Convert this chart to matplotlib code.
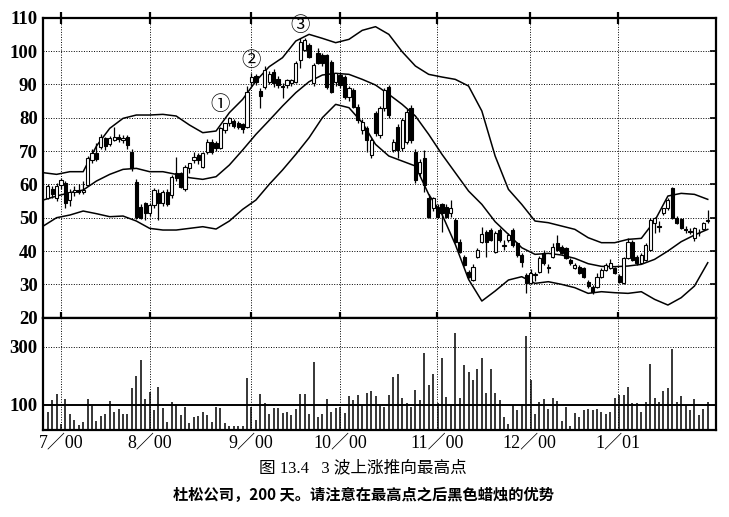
import numpy as np
import matplotlib
matplotlib.use("Agg")
import matplotlib.pyplot as plt

# 日线数据 (开, 高, 低, 收)，按交易日顺序
opens = [56.0, 58.5, 56.0, 59.8, 60.5, 55.3, 57.8, 58.3, 57.8, 59.8,
         67.3, 69.5, 71.3, 73.8, 72.0, 73.3, 74.3, 73.3, 74.3, 69.8,
         60.8, 53.3, 54.3, 51.3, 53.8, 57.3, 54.3, 57.8, 56.8, 63.5,
         63.3, 58.5, 64.8, 67.3, 68.8, 65.3, 69.8, 72.8, 72.3, 70.8,
         76.3, 78.3, 79.0, 78.5, 78.0, 77.3, 90.8, 92.5, 88.1, 89.3,
         90.8, 93.8, 91.5, 89.5, 89.8, 90.3, 90.8, 97.3, 100.3, 101.8,
         90.3, 99.3, 98.8, 98.8, 96.8, 90.8, 92.8, 92.3, 86.3, 88.3,
         83.3, 76.3, 76.8, 68.8, 81.3, 74.8, 82.8, 89.3, 70.3, 77.3,
         70.8, 72.8, 82.8, 69.8, 63.3, 67.8, 55.8, 52.8, 53.3, 54.0,
         53.3, 51.3, 49.3, 42.8, 38.3, 33.8, 31.3, 38.3, 42.8, 45.8,
         46.3, 39.8, 46.3, 41.5, 43.3, 46.3, 42.3, 38.8, 32.8, 30.3,
         32.8, 33.8, 39.3, 35.2, 38.3, 42.3, 41.3, 40.8, 37.3, 35.0,
         35.3, 34.8, 30.8, 29.3, 29.3, 32.3, 34.3, 34.8, 34.8, 32.5,
         30.3, 37.8, 42.8, 38.3, 36.3, 37.3, 40.3, 48.3, 47.5, 51.3,
         52.8, 58.8, 49.8, 49.5, 46.5, 46.0, 43.8, 45.5, 46.5, 49.0]
highs = [60.0, 59.5, 60.5, 62.0, 61.0, 58.5, 59.5, 60.0, 61.0, 68.5,
         70.5, 72.5, 75.0, 74.3, 74.5, 77.3, 75.0, 74.8, 74.8, 70.5,
         61.5, 54.0, 54.8, 54.5, 59.0, 58.5, 58.3, 58.5, 62.8, 68.3,
         63.8, 65.8, 66.5, 69.8, 69.5, 69.8, 73.5, 73.5, 73.0, 77.3,
         78.5, 80.3, 79.5, 79.0, 78.5, 89.5, 93.5, 93.0, 89.0, 95.5,
         94.0, 94.5, 92.5, 90.3, 91.5, 91.5, 97.0, 103.8, 104.0, 102.3,
         96.5, 100.8, 99.3, 99.0, 97.3, 93.5, 93.3, 92.8, 89.5, 88.8,
         84.0, 79.5, 77.5, 73.8, 82.0, 83.5, 88.8, 89.8, 73.5, 78.0,
         80.0, 82.5, 83.8, 70.5, 67.5, 70.3, 57.0, 56.3, 54.0, 54.5,
         54.0, 55.3, 49.8, 43.5, 38.8, 34.3, 36.0, 41.0, 47.3, 46.3,
         46.8, 46.0, 46.8, 43.3, 45.5, 46.8, 42.8, 39.3, 33.5, 34.5,
         33.8, 38.5, 40.3, 36.0, 42.3, 44.8, 41.8, 41.3, 37.8, 36.3,
         35.8, 35.3, 31.3, 29.8, 33.3, 34.8, 36.3, 37.5, 35.3, 33.0,
         38.3, 43.8, 43.3, 38.8, 39.3, 42.3, 49.8, 50.3, 49.0, 53.0,
         56.0, 59.3, 50.5, 50.0, 47.5, 47.0, 47.3, 46.5, 48.8, 52.3]
lows = [55.5, 55.8, 55.0, 58.5, 53.0, 53.5, 56.5, 57.0, 57.0, 59.5,
        66.5, 67.0, 70.5, 70.3, 71.5, 73.0, 72.8, 72.5, 70.5, 64.0,
        49.5, 49.5, 49.3, 50.5, 53.0, 49.3, 53.5, 53.5, 56.0, 61.0,
        58.8, 58.0, 63.5, 66.5, 66.0, 64.8, 69.0, 69.0, 70.0, 70.5,
        75.5, 77.5, 76.8, 76.5, 75.5, 77.0, 89.5, 89.8, 82.8, 88.5,
        90.0, 89.3, 89.0, 85.8, 89.0, 89.5, 90.5, 94.8, 100.0, 98.0,
        89.5, 96.0, 95.5, 88.5, 87.3, 89.5, 89.0, 85.5, 85.0, 83.0,
        78.5, 75.0, 69.8, 68.0, 74.5, 74.0, 82.0, 80.0, 69.8, 67.8,
        70.0, 72.0, 72.5, 60.5, 62.5, 57.8, 50.0, 52.0, 49.8, 45.8,
        49.8, 50.3, 42.5, 39.5, 35.5, 32.0, 31.0, 37.8, 42.5, 38.3,
        43.0, 39.5, 42.8, 40.3, 42.8, 41.3, 38.3, 35.3, 27.3, 30.0,
        31.0, 33.5, 35.8, 33.3, 38.0, 40.0, 39.0, 37.5, 35.8, 34.5,
        33.0, 32.0, 28.8, 27.0, 28.8, 32.0, 34.0, 34.5, 33.0, 30.3,
        30.0, 37.5, 37.0, 35.8, 36.0, 37.0, 40.0, 45.5, 45.8, 50.8,
        52.3, 49.5, 48.0, 46.5, 45.5, 45.0, 43.0, 44.5, 46.2, 48.5]
closes = [59.5, 57.0, 59.5, 61.3, 54.3, 57.8, 58.2, 57.8, 58.3, 67.8,
          69.3, 67.5, 74.3, 71.5, 73.8, 74.3, 73.5, 74.0, 71.8, 64.8,
          50.2, 50.0, 51.3, 53.8, 58.3, 54.3, 57.8, 54.0, 62.3, 61.8,
          59.3, 65.3, 66.3, 68.3, 67.3, 69.3, 72.8, 69.8, 70.8, 76.8,
          78.3, 79.8, 77.5, 77.3, 76.5, 87.8, 92.3, 90.8, 86.6, 94.3,
          93.0, 90.3, 89.8, 89.1, 91.3, 91.3, 96.3, 102.8, 103.3, 98.3,
          95.8, 96.3, 96.5, 89.3, 87.8, 93.3, 89.8, 86.3, 88.8, 83.3,
          79.3, 78.8, 73.3, 73.3, 75.3, 82.8, 88.3, 80.8, 72.8, 70.3,
          79.3, 81.8, 73.3, 61.3, 66.8, 59.8, 50.3, 55.8, 50.3, 51.3,
          50.3, 52.8, 42.8, 39.8, 35.8, 32.3, 35.3, 40.3, 45.0, 42.8,
          43.3, 45.3, 43.3, 41.8, 44.8, 41.8, 38.8, 36.8, 30.3, 33.3,
          33.2, 37.8, 36.3, 35.0, 41.3, 40.3, 39.3, 37.8, 36.3, 35.8,
          33.3, 32.3, 29.5, 27.8, 32.3, 34.3, 35.8, 36.3, 33.3, 30.8,
          37.8, 42.8, 37.3, 36.3, 38.8, 41.8, 49.3, 49.8, 47.3, 52.8,
          55.3, 49.8, 48.3, 46.8, 46.3, 45.8, 46.8, 45.3, 48.3, 49.2]
volumes = [75, 117, 138, 34, 119, 68, 49, 31, 43, 119,
           98, 45, 63, 69, 113, 75, 85, 68, 68, 158,
           199, 254, 119, 143, 83, 163, 89, 41, 109, 102,
           66, 94, 39, 58, 62, 77, 66, 41, 92, 89,
           37, 28, 28, 28, 28, 191, 94, 49, 138, 106,
           68, 89, 91, 74, 75, 66, 85, 138, 138, 68,
           247, 58, 69, 121, 77, 91, 92, 71, 131, 117,
           133, 100, 142, 148, 131, 97, 92, 133, 197, 206,
           125, 106, 92, 151, 117, 279, 169, 206, 106, 260,
           129, 100, 348, 123, 239, 212, 186, 222, 260, 140,
           223, 142, 117, 60, 35, 100, 81, 102, 337, 186,
           69, 109, 119, 86, 123, 115, 45, 94, 29, 71,
           60, 83, 85, 83, 85, 75, 68, 75, 124, 134,
           134, 163, 108, 106, 77, 111, 241, 125, 111, 149,
           157, 292, 111, 131, 100, 83, 121, 67, 85, 109]

# 布林带 (读图取样)
band_days = [-1, 2, 5, 8, 11, 14, 17, 20, 23, 26, 29, 32, 35, 38, 41, 44, 47,
             50, 53, 56, 59, 62, 65, 68, 71, 74, 77, 80, 83, 86, 89, 92, 95,
             98, 101, 104, 107, 110, 113, 116, 119, 122, 125, 128, 131, 134,
             137, 140, 143, 146, 149]
band_upper = [63.5, 63.0, 63.8, 63.8, 71.5, 76.8, 79.8, 80.8, 80.8, 81.0, 80.5,
              77.8, 75.5, 76.0, 81.5, 85.5, 91.0, 95.3, 98.0, 103.0, 105.0,
              103.8, 102.5, 103.5, 106.2, 107.3, 105.0, 99.8, 95.5, 93.0, 92.2,
              91.5, 89.5, 82.0, 68.5, 58.5, 54.0, 49.0, 48.5, 47.5, 46.5, 44.0,
              42.5, 42.5, 43.5, 43.8, 49.0, 56.5, 57.3, 57.0, 55.5]
band_mid = [55.3, 56.5, 57.5, 58.3, 61.0, 63.0, 64.5, 64.8, 63.8, 63.8, 63.0,
            62.0, 61.5, 62.3, 65.8, 70.3, 75.0, 79.2, 83.5, 87.5, 90.8, 92.8,
            93.3, 93.0, 91.5, 89.8, 87.0, 84.0, 80.5, 75.0, 69.0, 63.5, 58.0,
            54.0, 48.8, 45.0, 41.0, 39.0, 39.3, 38.8, 37.8, 36.2, 35.4, 35.3,
            35.5, 36.0, 37.5, 40.0, 42.8, 44.8, 46.5]
band_lower = [47.5, 50.0, 50.8, 52.0, 51.2, 50.3, 50.5, 49.0, 46.8, 46.3, 46.3,
              46.8, 47.3, 46.6, 49.0, 52.5, 55.3, 60.0, 64.3, 69.0, 74.0, 80.0,
              84.0, 83.0, 78.5, 72.0, 68.5, 67.0, 65.5, 57.0, 51.0, 42.0, 31.5,
              25.0, 28.0, 31.3, 32.3, 30.3, 30.8, 30.0, 29.0, 27.3, 27.8, 27.5,
              27.3, 27.8, 25.5, 23.8, 26.0, 29.5, 36.5]

month_labels = ["7／00", "8／00", "9／00", "10／00", "11／00", "12／00", "1／01"]
month_pos = [3.0, 23.0, 45.9, 66.0, 87.8, 108.8, 128.7]
wave_days = [40, 46, 57]
wave_marks = ["①", "②", "③"]

o = np.array(opens)
h = np.array(highs)
l = np.array(lows)
c = np.array(closes)
days = np.arange(len(o))

serif = ["Liberation Serif", "Noto Sans CJK SC"]
cjk = ["Noto Sans CJK SC", "DejaVu Sans"]
dots = (0, (1, 1.6))

fig = plt.figure(figsize=(7.29, 5.17), dpi=100)
ax = fig.add_axes([0.0594, 0.3855, 0.9224, 0.5803])
axv = fig.add_axes([0.0594, 0.1683, 0.9224, 0.2172])

# K线
ax.vlines(days, l, h, color="black", lw=0.9, zorder=3)
up = c >= o
body = np.maximum(np.abs(c - o), 0.25)
bottom = np.minimum(o, c)
ax.bar(days[up], body[up], bottom=bottom[up], width=0.72, color="white",
       edgecolor="black", lw=0.8, zorder=4)
ax.bar(days[~up], body[~up], bottom=bottom[~up], width=0.72, color="black",
       edgecolor="black", lw=0.8, zorder=4)

for vals in (band_upper, band_mid, band_lower):
    ax.plot(band_days, vals, color="black", lw=1.1, zorder=2)

for d, m in zip(wave_days, wave_marks):
    ax.text(d - 1 if m == "①" else d, h[d] + 5.5 if m == "①" else h[d] + 3.8, m,
            ha="center", va="center", fontsize=14, family=cjk)

ax.set_xlim(-1, 150.8)
ax.set_ylim(20, 110)
ax.set_yticks(range(20, 111, 10))
ax.set_yticklabels([str(v) for v in range(20, 111, 10)], family=serif,
                   fontsize=13.5, fontweight="bold")
ax.set_xticks(month_pos)
ax.tick_params(axis="x", top=True, bottom=True, direction="inout", length=9,
               width=1.6, labelbottom=False)
ax.tick_params(axis="y", left=False, right=True, direction="in", length=4,
               width=1.2, pad=4)
ax.grid(True, color="black", ls=dots, lw=0.7)
for s in ax.spines.values():
    s.set_linewidth(1.6)

# 成交量
axv.vlines(days, 0, volumes, color="black", lw=1.1, zorder=3)
axv.axhline(100, color="black", lw=1.4, zorder=2)
axv.axhline(300, color="black", ls=dots, lw=0.7)
for x in month_pos:
    axv.axvline(x, color="black", ls=dots, lw=0.7)
axv.set_xlim(-1, 150.8)
axv.set_ylim(14, 400)
axv.set_yticks([100, 300])
axv.set_yticklabels(["100", "300"], family=serif, fontsize=13.5, fontweight="bold")
axv.set_xticks(month_pos)
axv.set_xticklabels(month_labels, family=serif, fontsize=13)
axv.tick_params(axis="x", length=0, pad=3)
axv.tick_params(axis="y", length=0, pad=4)
for s in axv.spines.values():
    s.set_linewidth(1.6)

fig.text(0.498, 1 - 468 / 517, "图 13.4   3 波上涨推向最高点", ha="center",
         va="center", fontsize=12, family=serif)
fig.text(0.498, 1 - 495 / 517, "杜松公司，200 天。请注意在最高点之后黑色蜡烛的优势",
         ha="center", va="center", fontsize=11, family=cjk, fontweight="bold")

fig.savefig("out.png", dpi=100)
